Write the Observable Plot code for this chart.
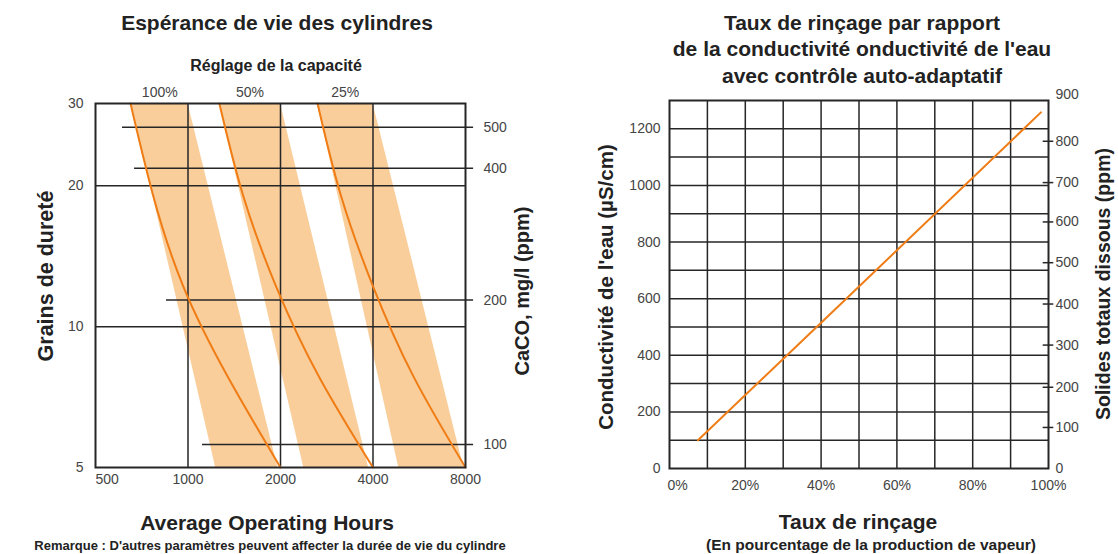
<!DOCTYPE html>
<html><head><meta charset="utf-8">
<script src="https://cdn.jsdelivr.net/npm/d3@7"></script>
<script src="https://cdn.jsdelivr.net/npm/@observablehq/plot@0.6"></script>
<style>
body{margin:0;background:#fff;font-family:Arial,"Liberation Sans",sans-serif;}
#wrap{position:relative;width:1118px;height:554px;overflow:hidden;background:#fff;}
.t{position:absolute;font-weight:bold;color:#222;white-space:nowrap;transform:translate(-50%,-50%);line-height:1;}
.r{transform:translate(-50%,-50%) rotate(-90deg);}
#wrap svg{position:absolute;top:0;}
</style></head>
<body><div id="wrap"></div>
<script>
// ---------- Left chart data ----------
const hoursTicks = [500, 1000, 2000, 4000, 8000];
const grainTicks = [5, 10, 20, 30];
const ppmLabels = [100, 200, 400, 500];
const ppmGrains = [5.6, 11.4, 21.8, 26.7];
const ppmLineStart = [1115, 851, 670, 612];
const capacities = ["100%", "50%", "25%"];
const bandTopLeft = [655, 1265, 2640];
const bandTopRight = [1000, 2000, 4000];
const bandBottomLeft = [1230, 2380, 4850];
const bandBottomRight = [1960, 3870, 7900];
const curveGrains = [30, 19.2, 12.2, 7.8, 5];
const curve100 = [650, 768, 965, 1350, 2000];
const curve50 = [1265, 1507, 1934, 2674, 4000];
const curve25 = [2640, 3136, 4000, 5430, 8000];

// ---------- Right chart data ----------
const rinsePct = [7.5, 39.8, 98];
const conductivity = [100, 512, 1258];
const pctTicks = [0, 20, 40, 60, 80, 100];
const pctGrid = [10, 20, 30, 40, 50, 60, 70, 80, 90];
const condTicks = [0, 200, 400, 600, 800, 1000, 1200];
const condGrid = [100, 200, 300, 400, 500, 600, 700, 800, 900, 1000, 1100, 1200];
const tdsLabels = [0, 100, 200, 300, 400, 500, 600, 700, 800, 900];
const tdsPos = [0, 145, 287, 436, 581, 727, 871, 1010, 1156, 1321];

const INK = "#262626", TICK = "#444", ORANGE = "#EF7C14", BAND = "#F9CE9B";
const FONT = "Arial, 'Liberation Sans', sans-serif";

const wrap = document.getElementById("wrap");

// ---- Left plot ----
const curveSets = [curve100, curve50, curve25];
const bands = capacities.flatMap((c, i) => [
  {c, g: 30, x1: bandTopLeft[i], x2: bandTopRight[i]},
  {c, g: 5, x1: bandBottomLeft[i], x2: bandBottomRight[i]}
]);
const curves = capacities.flatMap((c, i) => curveGrains.map((g, j) => ({c, g, h: curveSets[i][j]})));
const ppmRows = ppmLabels.map((p, i) => ({p, g: ppmGrains[i], start: ppmLineStart[i]}));
const ppmMap = new Map(ppmGrains.map((g, i) => [g, ppmLabels[i]]));
const capRows = capacities.map((c, i) => ({c, x: Math.sqrt(bandTopLeft[i] * bandTopRight[i])}));

const left = Plot.plot({
  width: 560, height: 554,
  marginLeft: 95, marginRight: 95, marginTop: 103, marginBottom: 87,
  x: {type: "log", domain: [500, 8000], axis: null},
  y: {type: "log", domain: [5, 30], axis: null},
  style: {fontFamily: FONT, fontSize: "14px", color: TICK, background: "transparent", overflow: "visible"},
  marks: [
    Plot.areaX(bands, {y: "g", x1: "x1", x2: "x2", z: "c", fill: BAND, curve: "linear"}),
    Plot.ruleX([1000, 2000, 4000], {stroke: INK, strokeWidth: 1.5}),
    Plot.ruleY([10, 20], {stroke: INK, strokeWidth: 1.5}),
    Plot.ruleY(ppmRows, {y: "g", x1: "start", x2: 8500, stroke: INK, strokeWidth: 1.5}),
    Plot.line(curves, {x: "h", y: "g", z: "c", stroke: ORANGE, strokeWidth: 2, curve: "natural"}),
    Plot.frame({stroke: INK, strokeWidth: 2}),
    Plot.axisY(grainTicks, {anchor: "left", tickSize: 0, tickPadding: 12, label: null, tickFormat: d => String(d)}),
    Plot.axisY(ppmGrains, {anchor: "right", tickSize: 0, tickPadding: 18, label: null, tickFormat: d => String(ppmMap.get(d))}),
    Plot.text(hoursTicks.slice(0, 1), {x: d => d, text: d => String(d), frameAnchor: "bottom", dy: 16, dx: 0, textAnchor: "start", fill: TICK, fontSize: 14}),
    Plot.text(hoursTicks.slice(1), {x: d => d, text: d => String(d), frameAnchor: "bottom", dy: 16, fill: TICK, fontSize: 14}),
    Plot.text(capRows, {x: "x", y: () => 30, text: "c", dy: -11, fill: TICK, fontSize: 14})
  ]
});
left.style.left = "0px";
wrap.appendChild(left);

// ---- Right plot ----
const rinse = rinsePct.map((x, i) => ({x, y: conductivity[i]}));
const tdsMap = new Map(tdsPos.map((p, i) => [p, tdsLabels[i]]));
const right = Plot.plot({
  width: 558, height: 554,
  marginLeft: 109, marginRight: 70, marginTop: 100, marginBottom: 86,
  x: {domain: [0, 100], axis: null},
  y: {domain: [0, 1300], axis: null},
  style: {fontFamily: FONT, fontSize: "14px", color: TICK, background: "transparent", overflow: "visible"},
  marks: [
    Plot.ruleX(pctGrid, {stroke: INK, strokeWidth: 1.5}),
    Plot.ruleY(condGrid, {stroke: INK, strokeWidth: 1.5}),
    Plot.frame({stroke: INK, strokeWidth: 2}),
    Plot.ruleY(tdsPos.slice(1, 9), {x1: 98.6, x2: 101.4, stroke: INK, strokeWidth: 1.5}),
    Plot.line(rinse, {x: "x", y: "y", stroke: ORANGE, strokeWidth: 2}),
    Plot.axisY(condTicks, {anchor: "left", tickSize: 0, tickPadding: 9, label: null, tickFormat: d => String(d)}),
    Plot.axisY(tdsPos, {anchor: "right", tickSize: 0, tickPadding: 7, label: null, tickFormat: d => String(tdsMap.get(d))}),
    Plot.text(pctTicks.slice(0, 1), {x: d => d, text: d => d + "%", frameAnchor: "bottom", dy: 21, dx: -2, textAnchor: "start", fill: TICK, fontSize: 14}),
    Plot.text(pctTicks.slice(1), {x: d => d, text: d => d + "%", frameAnchor: "bottom", dy: 21, fill: TICK, fontSize: 14})
  ]
});
right.style.left = "560px";
wrap.appendChild(right);

// ---- Titles ----
function label(text, x, y, size, rotate) {
  const d = document.createElement("div");
  d.className = "t" + (rotate ? " r" : "");
  d.textContent = text;
  d.style.left = x + "px";
  d.style.top = y + "px";
  d.style.fontSize = size + "px";
  wrap.appendChild(d);
}
label("Espérance de vie des cylindres", 277, 22, 21);
label("Réglage de la capacité", 276, 66, 16);
label("Grains de dureté", 47, 276, 21.5, true);
label("CaCO, mg/l (ppm)", 522, 291, 20, true);
label("Average Operating Hours", 267, 522, 21);
label("Remarque : D'autres paramètres peuvent affecter la durée de vie du cylindre", 270, 545, 13);
label("Taux de rinçage par rapport", 862, 22, 21);
label("de la conductivité onductivité de l'eau", 862, 48, 21);
label("avec contrôle auto-adaptatif", 862, 75, 21);
label("Conductivité de l'eau (µS/cm)", 606, 287, 20.5, true);
label("Solides totaux dissous (ppm)", 1104, 284, 19.5, true);
label("Taux de rinçage", 858, 521, 21);
label("(En pourcentage de la production de vapeur)", 871, 545, 15.5);
</script>
</body></html>
